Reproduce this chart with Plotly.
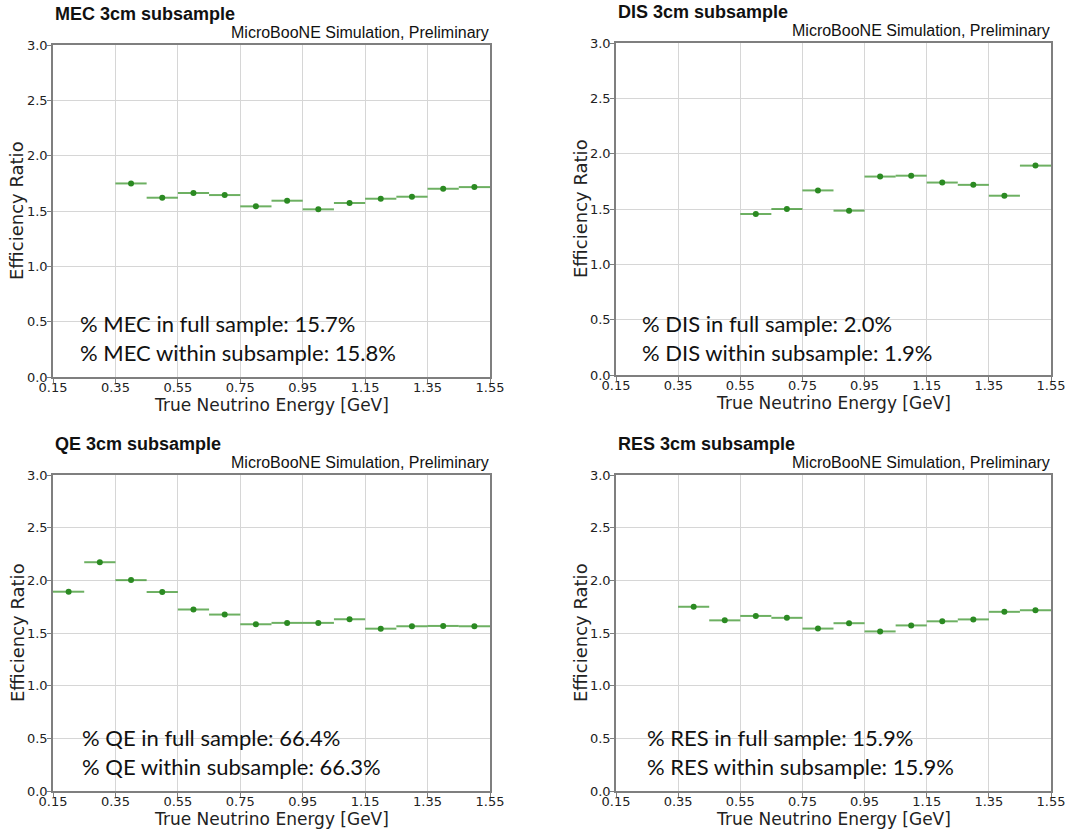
import plotly.graph_objects as go

# ---------------- data ----------------
mec_x = [0.40, 0.50, 0.60, 0.70, 0.80, 0.90, 1.00, 1.10, 1.20, 1.30, 1.40, 1.50]
mec_y = [1.749, 1.620, 1.662, 1.644, 1.542, 1.593, 1.515, 1.572, 1.611, 1.629, 1.701, 1.716]

dis_x = [0.60, 0.70, 0.80, 0.90, 1.00, 1.10, 1.20, 1.30, 1.40, 1.50]
dis_y = [1.455, 1.500, 1.668, 1.485, 1.793, 1.801, 1.739, 1.718, 1.620, 1.892]

qe_x = [0.20, 0.30, 0.40, 0.50, 0.60, 0.70, 0.80, 0.90, 1.00, 1.10, 1.20, 1.30, 1.40, 1.50]
qe_y = [1.892, 2.172, 2.002, 1.889, 1.723, 1.675, 1.583, 1.596, 1.596, 1.631, 1.541, 1.564, 1.567, 1.564]

res_x = [0.40, 0.50, 0.60, 0.70, 0.80, 0.90, 1.00, 1.10, 1.20, 1.30, 1.40, 1.50]
res_y = [1.749, 1.620, 1.662, 1.644, 1.542, 1.593, 1.515, 1.572, 1.611, 1.629, 1.701, 1.716]

bin_half_width = 0.05

titles = ["MEC 3cm subsample", "DIS 3cm subsample", "QE 3cm subsample", "RES 3cm subsample"]
full_text = ["% MEC in full sample: 15.7%", "% DIS in full sample: 2.0%",
             "% QE in full sample: 66.4%", "% RES in full sample: 15.9%"]
sub_text = ["% MEC within subsample: 15.8%", "% DIS within subsample: 1.9%",
            "% QE within subsample: 66.3%", "% RES within subsample: 15.9%"]
sim_label = "MicroBooNE Simulation, Preliminary"
x_title = "True Neutrino Energy [GeV]"
y_title = "Efficiency Ratio"

# ---------------- layout geometry (pixels) ----------------
W, H = 1091, 829

def px(x):
    return x / W

def py(y):
    return 1 - y / H

# panel boxes: left, right, top, bottom (pixels)
panels = [
    (53, 490, 45, 377),
    (616, 1051, 43, 375),
    (53, 490, 475, 791),
    (616, 1051, 475, 791),
]
series = [(mec_x, mec_y), (dis_x, dis_y), (qe_x, qe_y), (res_x, res_y)]
text_pos = [(78, 323, 352), (640, 323, 352), (80, 737, 766), (645, 737, 766)]
ytitle_x = [17, 580, 17, 580]

fig = go.Figure()
layout = dict(
    width=W, height=H,
    margin=dict(l=0, r=0, t=0, b=0),
    paper_bgcolor="white", plot_bgcolor="white",
    showlegend=False,
    annotations=[],
)

grid_color = "#d6d6d6"
axis_color = "#7f7f7f"
tick_font = dict(family="DejaVu Sans", size=13, color="#222222")
label_font = dict(family="DejaVu Sans", size=17, color="#222222")

for i, ((l, r, t, b), (xs, ys)) in enumerate(zip(panels, series)):
    n = i + 1
    xa = "xaxis" if n == 1 else f"xaxis{n}"
    ya = "yaxis" if n == 1 else f"yaxis{n}"
    xref = "x" if n == 1 else f"x{n}"
    yref = "y" if n == 1 else f"y{n}"

    fig.add_trace(go.Scatter(
        x=xs, y=ys, xaxis=xref, yaxis=yref, mode="markers",
        marker=dict(color="#2b8a22", size=6),
        error_x=dict(type="constant", value=bin_half_width, color="rgba(60,150,45,0.75)",
                     thickness=2, width=0),
        hoverinfo="x+y",
    ))

    layout[xa] = dict(
        domain=[px(l), px(r)], anchor=yref, range=[0.15, 1.55], automargin=False,
        tick0=0.15, dtick=0.2, tickformat=".2f",
        showgrid=True, gridcolor=grid_color, gridwidth=1,
        showline=True, linecolor=axis_color, linewidth=1.5, mirror=True,
        ticks="outside", ticklen=4, tickcolor=axis_color,
        tickfont=tick_font, zeroline=False, ticklabelstandoff=-6,
    )
    layout[ya] = dict(
        domain=[py(b), py(t)], anchor=xref, range=[0, 3.0], automargin=False,
        tick0=0, dtick=0.5, tickformat=".1f",
        showgrid=True, gridcolor=grid_color, gridwidth=1,
        showline=True, linecolor=axis_color, linewidth=1.5, mirror=True,
        ticks="outside", ticklen=4, tickcolor=axis_color,
        tickfont=tick_font, zeroline=False, ticklabelstandoff=-3,
    )

    # axis titles
    layout["annotations"].append(dict(
        text=x_title, xref="paper", yref="paper",
        x=px((l + r) / 2), y=py(b + 28), xanchor="center", yanchor="middle",
        showarrow=False, font=label_font,
    ))
    layout["annotations"].append(dict(
        text=y_title, xref="paper", yref="paper", textangle=-90,
        x=px(ytitle_x[i]), y=py((t + b) / 2), xanchor="center", yanchor="middle",
        showarrow=False, font=dict(family="DejaVu Sans", size=18, color="#222222"),
    ))

    # panel title
    layout["annotations"].append(dict(
        text=f"<b>{titles[i]}</b>", xref="paper", yref="paper",
        x=px(l + 0), y=py(t - 31), xanchor="left", yanchor="middle",
        showarrow=False, font=dict(family="Liberation Sans", size=18, color="#111111"),
    ))
    layout["annotations"].append(dict(
        text=sim_label, xref="paper", yref="paper",
        x=px(r + 1), y=py(t - 12), xanchor="right", yanchor="middle",
        showarrow=False, font=dict(family="Liberation Sans", size=16, color="#111111"),
    ))
    tx, y1, y2 = text_pos[i]
    for txt, yy in ((full_text[i], y1), (sub_text[i], y2)):
        layout["annotations"].append(dict(
            text=txt, xref="paper", yref="paper",
            x=px(tx), y=py(yy), xanchor="left", yanchor="middle",
            showarrow=False, font=dict(family="Lato", size=22, color="#111111"),
        ))

fig.update_layout(**layout)
fig.write_html("out.html")
